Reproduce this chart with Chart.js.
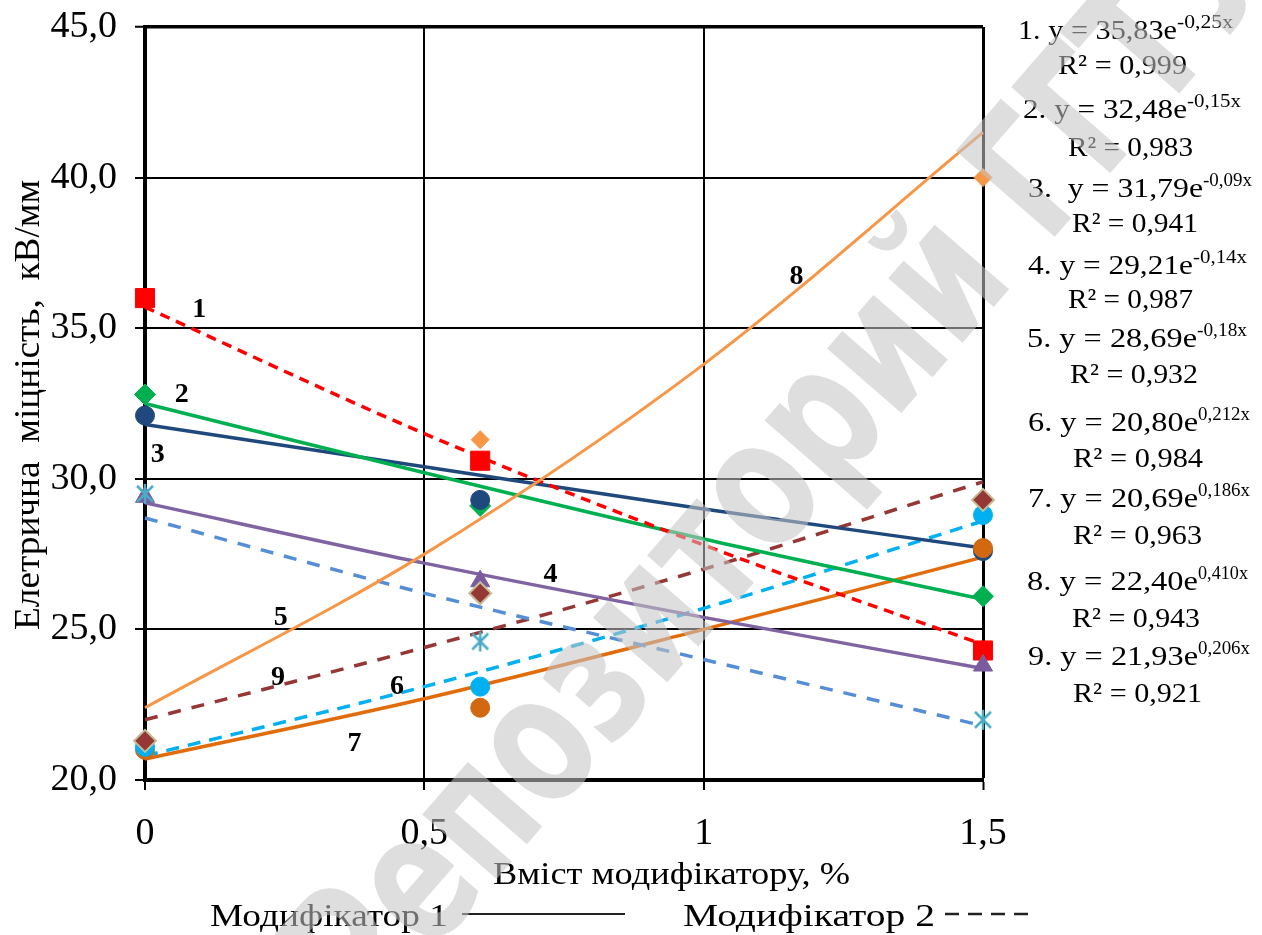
<!DOCTYPE html>
<html><head><meta charset="utf-8">
<script src="https://cdn.jsdelivr.net/npm/chart.js@4.4.1/dist/chart.umd.min.js"></script>
<style>html,body{margin:0;padding:0;background:#fff}canvas{display:block}</style>
</head><body>
<canvas id="c" width="1262" height="935" style="width:1262px;height:935px"></canvas>
<script>
// ---------- data ----------
const xValues = [0, 0.6, 1.5];
const s1 = [36.0, 30.6, 24.3];
const s2 = [32.8, 29.1, 26.1];
const s3 = [32.1, 29.3, 27.6];
const s4 = [29.4, 26.6, 23.8];
const s5 = [29.5, 24.6, 22.0];
const s6 = [21.1, 23.1, 28.8];
const s7 = [21.0, 22.4, 27.7];
const s8 = [21.3, 31.3, 40.0];
const s9 = [21.3, 26.2, 29.3];

const trendX = [0, 0.5, 1, 1.5];
const t1 = [35.7, 31.5, 27.8, 24.5];
const t2 = [32.5, 30.2, 28.0, 26.0];
const t3 = [31.8, 30.4, 29.0, 27.7];
const t4 = [29.2, 27.2, 25.4, 23.7];
const t5 = [28.7, 26.2, 24.0, 21.8];
const t6 = [20.8, 23.1, 25.7, 28.6];
const t7 = [20.7, 22.7, 25.0, 27.4];
const t8 = [22.4, 27.5, 33.8, 41.5];
const t9 = [22.0, 24.4, 27.0, 29.9];

const xTicks = [0, 0.5, 1, 1.5];
const xTickLabels = ['0', '0,5', '1', '1,5'];
const yTicks = [20, 25, 30, 35, 40, 45];
const yTickLabels = ['20,0', '25,0', '30,0', '35,0', '40,0', '45,0'];

const curveNames = ['1', '2', '3', '4', '5', '6', '7', '8', '9'];
const curveLabelX = [0.097, 0.066, 0.023, 0.726, 0.243, 0.451, 0.375, 1.166, 0.238];
const curveLabelY = [35.6, 32.8, 30.8, 26.8, 25.4, 23.1, 21.2, 36.7, 23.4];

const eqMain = ['1. y = 35,83e', '2. y = 32,48e', '3.  y = 31,79e', '4. y = 29,21e', '5. y = 28,69e',
                '6. y = 20,80e', '7. y = 20,69e', '8. y = 22,40e', '9. y = 21,93e'];
const eqExp = ['-0,25x', '-0,15x', '-0,09x', '-0,14x', '-0,18x', '0,212x', '0,186x', '0,410x', '0,206x'];
const eqR2 = ['R² = 0,999', 'R² = 0,983', 'R² = 0,941', 'R² = 0,987', 'R² = 0,932',
              'R² = 0,984', 'R² = 0,963', 'R² = 0,943', 'R² = 0,921'];

const yTitle = 'Елетрична  міцність,  кВ/мм';
const xTitle = 'Вміст модифікатору, %';
const legend1 = 'Модифікатор 1';
const legend2 = 'Модифікатор 2';
const watermark = 'Репозиторий ГГТУ';

// ---------- layout / style (not data) ----------
const SERIF = '"Liberation Serif", "Times New Roman", serif';
// per equation: [mainStart, mainEnd, expEnd, mainBaseline, r2Start, r2End, r2Baseline]
const eqLayout = [
  [1018, 1177, 1233, 39, 1058, 1187, 74],
  [1023, 1187, 1241, 118, 1068, 1193, 156],
  [1028, 1203, 1252, 197, 1072, 1198, 232],
  [1028, 1193, 1247, 274, 1068, 1193, 308],
  [1027, 1197, 1247, 347, 1070, 1198, 383],
  [1028, 1198, 1250, 431, 1073, 1203, 467],
  [1028, 1198, 1250, 507, 1073, 1202, 544],
  [1027, 1198, 1248, 590, 1072, 1200, 627],
  [1028, 1198, 1250, 665, 1073, 1202, 702]
];

const starImg = (function () {
  const c = document.createElement('canvas');
  c.width = 22; c.height = 22;
  const g = c.getContext('2d');
  g.strokeStyle = '#4BACC6';
  g.lineWidth = 2.5;
  g.beginPath();
  g.moveTo(3, 3); g.lineTo(19, 19);
  g.moveTo(19, 3); g.lineTo(3, 19);
  g.moveTo(11, 1); g.lineTo(11, 21);
  g.stroke();
  return c;
})();

function pts(xs, ys) { return xs.map((x, i) => ({ x: x, y: ys[i] })); }

function marker(data, style, radius, bg, border, bw, order) {
  return { data: pts(xValues, data), showLine: false, pointStyle: style, pointRadius: radius,
    pointBackgroundColor: bg, pointBorderColor: border, pointBorderWidth: bw, order: order, clip: false };
}
function trend(data, color, width, dash, order) {
  return { data: pts(trendX, data), showLine: true, pointRadius: 0, borderColor: color,
    borderWidth: width, borderDash: dash, cubicInterpolationMode: 'monotone', fill: false, order: order, clip: false };
}

const datasets = [
  marker(s9, 'rectRot', 11, '#953735', '#C4BD97', 2, 0),
  marker(s8, 'rectRot', 9, '#F79646', '#F79646', 1, 1),
  marker(s6, 'circle', 9.5, '#00B0F0', '#00B0F0', 1, 2),
  marker(s7, 'circle', 9.5, '#D2680F', '#D2680F', 1, 3),
  marker(s5, starImg, 10, '#4BACC6', '#4BACC6', 2, 4),
  marker(s4, 'triangle', 11, '#7A5C9E', '#7A5C9E', 1, 5),
  marker(s3, 'circle', 9.5, '#1F497D', '#1F497D', 1, 6),
  marker(s2, 'rectRot', 10.5, '#00B050', '#00B050', 1, 7),
  marker(s1, 'rect', 13.5, '#FF0000', '#FF0000', 1, 8),
  trend(t8, '#F79646', 3, [], 20),
  trend(t1, '#FF0000', 3.5, [10, 7], 21),
  trend(t2, '#00B050', 3.5, [], 22),
  trend(t3, '#1F497D', 3.5, [], 23),
  trend(t4, '#8064A2', 3.5, [], 24),
  trend(t5, '#558ED5', 3.5, [13, 11], 25),
  trend(t6, '#00B0F0', 3.5, [13, 9], 26),
  trend(t7, '#E26B0A', 3.5, [], 27),
  trend(t9, '#953735', 3.5, [13, 11], 28)
];

function fitText(ctx, text, x, y, size, width, opts) {
  opts = opts || {};
  ctx.save();
  ctx.font = (opts.bold ? 'bold ' : '') + size + 'px ' + (opts.family || SERIF);
  ctx.fillStyle = opts.color || '#000';
  ctx.textBaseline = opts.baseline || 'alphabetic';
  ctx.textAlign = 'left';
  const w = ctx.measureText(text).width;
  const sx = width ? width / w : 1;
  ctx.translate(x, y);
  if (opts.rotate) ctx.rotate(opts.rotate);
  ctx.scale(sx, 1);
  let x0 = 0;
  if (opts.align === 'center') x0 = -w / 2; else if (opts.align === 'right') x0 = -w;
  ctx.fillText(text, x0, 0);
  ctx.restore();
}

const decor = {
  id: 'decor',
  afterDatasetsDraw(chart) {
    const ctx = chart.ctx;
    const xs = chart.scales.x, ys = chart.scales.y;
    curveNames.forEach((n, i) => {
      ctx.save();
      ctx.font = 'bold 28px ' + SERIF;
      ctx.fillStyle = '#000';
      ctx.textAlign = 'center';
      ctx.textBaseline = 'middle';
      ctx.fillText(n, xs.getPixelForValue(curveLabelX[i]), ys.getPixelForValue(curveLabelY[i]));
      ctx.restore();
    });
  },
  afterDraw(chart) {
    const ctx = chart.ctx;
    eqMain.forEach((t, i) => {
      const L = eqLayout[i];
      fitText(ctx, t, L[0], L[3], 27, L[1] - L[0]);
      fitText(ctx, eqExp[i], L[1], L[3] - 11, 18, L[2] - L[1]);
      fitText(ctx, eqR2[i], L[4], L[6], 28, L[5] - L[4]);
    });
    fitText(ctx, yTitle, 30, 405, 36, 450, { rotate: -Math.PI / 2, align: 'center', baseline: 'middle' });
    fitText(ctx, xTitle, 493, 884, 32, 357);
    fitText(ctx, legend1, 210, 926, 32, 238);
    ctx.save();
    ctx.strokeStyle = '#222';
    ctx.lineWidth = 2;
    ctx.beginPath(); ctx.moveTo(462, 914); ctx.lineTo(625, 914); ctx.stroke();
    fitText(ctx, legend2, 683, 926, 32, 252);
    ctx.lineWidth = 2.5;
    for (let k = 0; k < 4; k++) {
      ctx.beginPath(); ctx.moveTo(945 + k * 23, 914); ctx.lineTo(959 + k * 23, 914); ctx.stroke();
    }
    ctx.restore();
    ctx.save();
    ctx.translate(790, 470);
    ctx.rotate(-49 * Math.PI / 180);
    ctx.font = 'bold 180px "DejaVu Sans", sans-serif';
    ctx.fillStyle = 'rgba(196,196,196,0.56)';
    ctx.textAlign = 'center';
    ctx.textBaseline = 'middle';
    const w = ctx.measureText(watermark).width;
    ctx.scale(1400 / w, 1);
    ctx.fillText(watermark, 0, 0);
    ctx.restore();
  }
};

new Chart(document.getElementById('c'), {
  type: 'scatter',
  data: { datasets: datasets },
  plugins: [decor],
  options: {
    responsive: false,
    animation: false,
    layout: { padding: { left: 0, right: 279, top: 27, bottom: 0 } },
    plugins: { legend: { display: false }, tooltip: { enabled: false } },
    scales: {
      x: {
        type: 'linear', min: 0, max: 1.5,
        afterBuildTicks: s => { s.ticks = xTicks.map(v => ({ value: v })); },
        afterFit: s => { s.height = 155; s.paddingLeft = 0; s.paddingRight = 0; },
        grid: { color: '#000', lineWidth: c => (c.tick && c.tick.value === 1.5) ? 3 : 2,
                tickLength: 10, tickWidth: 2, tickColor: '#000' },
        border: { color: '#000', width: 4 },
        ticks: { font: { family: SERIF, size: 38 }, color: '#000', padding: 21, maxRotation: 0,
                 autoSkip: false, callback: (v) => xTickLabels[xTicks.indexOf(v)] }
      },
      y: {
        min: 20, max: 45,
        afterBuildTicks: s => { s.ticks = yTicks.map(v => ({ value: v })); },
        afterFit: s => { s.width = 145; s.paddingTop = 0; s.paddingBottom = 0; },
        grid: { color: '#000', lineWidth: c => (c.tick && c.tick.value === 45) ? 3.5 : 2,
                tickLength: 10, tickWidth: 2, tickColor: '#000' },
        border: { color: '#000', width: 4 },
        ticks: { font: { family: SERIF, size: 38 }, color: '#000', padding: 18,
                 callback: (v) => yTickLabels[yTicks.indexOf(v)] }
      }
    }
  }
});
</script>
</body></html>
